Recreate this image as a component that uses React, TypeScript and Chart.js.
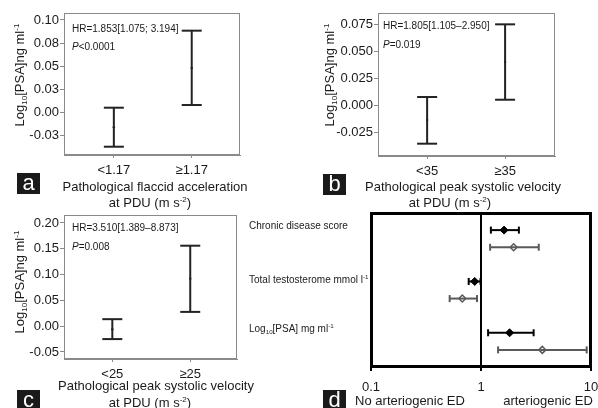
import React, { useEffect, useRef } from 'react';
import { Chart, registerables } from 'chart.js';
Chart.register(...registerables);

const FONT = '"Liberation Sans", Arial, Helvetica, sans-serif';
const TEXT = '#1a1a1a';
const BAR = '#222222';
const FRAME = '#8a8a8a';

// ---- Panel a ----
const aCategories = ['<1.17', '≥1.17'];
const aMean = [-0.0165, 0.0478];
const aLower = [-0.0377, 0.0076];
const aUpper = [0.0047, 0.0884];
const aTickValues = [-0.025, 0, 0.025, 0.05, 0.075, 0.1];
const aTickLabels = ['-0.03', '0.00', '0.03', '0.05', '0.08', '0.10'];

// ---- Panel b ----
const bCategories = ['<35', '≥35'];
const bMean = [-0.0139, 0.0398];
const bLower = [-0.0358, 0.0049];
const bUpper = [0.0074, 0.0747];
const bTickValues = [-0.025, 0, 0.025, 0.05, 0.075];
const bTickLabels = ['-0.025', '0.000', '0.025', '0.050', '0.075'];

// ---- Panel c ----
const cCategories = ['<25', '≥25'];
const cMean = [-0.006, 0.092];
const cLower = [-0.025, 0.0277];
const cUpper = [0.0136, 0.156];
const cTickValues = [-0.05, 0, 0.05, 0.1, 0.15, 0.2];
const cTickLabels = ['-0.05', '0.00', '0.05', '0.10', '0.15', '0.20'];

// ---- Panel d (hazard ratios, log scale) ----
const dFilledHR = [1.62, 0.877, 1.82];
const dFilledLow = [1.23, 0.773, 1.16];
const dFilledHigh = [2.21, 0.99, 3.01];
const dOpenHR = [1.98, 0.676, 3.61];
const dOpenLow = [1.21, 0.519, 1.43];
const dOpenHigh = [3.35, 0.92, 9.14];
const dTickValues = [0.1, 1, 10];
const dTickLabels = ['0.1', '1', '10'];
const dReference = 1;

const framePlugin = {
  id: 'frame',
  afterDraw(chart: any, _args: any, opts: any) {
    const a = chart.chartArea;
    if (!a) return;
    const ctx = chart.ctx;
    const lw = opts.width || 1;
    const o = lw % 2 ? 0.5 : 0;
    ctx.save();
    ctx.strokeStyle = opts.color || FRAME;
    ctx.lineWidth = lw;
    const L = Math.round(a.left), T = Math.round(a.top), R = Math.round(a.right), B = Math.round(a.bottom);
    ctx.strokeRect(L + o, T + o, R - L - 2 * o, B - T - 2 * o);
    ctx.restore();
  },
};

type Box = { left: number; top: number; width: number; height: number };
type Area = { left: number; top: number; right: number; bottom: number };

interface PanelProps {
  cats: string[];
  mean: number[];
  lower: number[];
  upper: number[];
  tickValues: number[];
  tickLabels: string[];
  yMin: number;
  yMax: number;
  xMin: number;
  xMax: number;
  box: Box;
  area: Area;
}

function ErrorPanel(p: PanelProps) {
  const ref = useRef<HTMLCanvasElement>(null);
  useEffect(() => {
    const datasets: any[] = [];
    p.cats.forEach((_c, i) => {
      datasets.push({
        data: [
          { x: i, y: p.lower[i] },
          { x: i, y: p.upper[i] },
        ],
        showLine: true,
        borderColor: BAR,
        borderWidth: 2,
        pointStyle: 'line',
        pointRadius: 10,
        pointHoverRadius: 10,
        pointBorderColor: BAR,
        pointBorderWidth: 2,
      });
    });
    datasets.push({
      data: p.mean.map((m, i) => ({ x: i, y: m })),
      pointRadius: 1.2,
      pointBackgroundColor: BAR,
      pointBorderColor: BAR,
      pointBorderWidth: 0,
    });
    const chart = new Chart(ref.current as HTMLCanvasElement, {
      type: 'scatter',
      data: { datasets },
      options: {
        responsive: false,
        animation: false,
        events: [],
        layout: {
          autoPadding: false,
          padding: { left: 0, top: p.area.top, right: p.box.width - p.area.right, bottom: 0 },
        },
        plugins: {
          legend: { display: false },
          tooltip: { enabled: false },
          frame: { color: FRAME, width: 1 },
        } as any,
        scales: {
          x: {
            type: 'linear',
            min: p.xMin,
            max: p.xMax,
            afterBuildTicks: (s: any) => {
              s.ticks = p.cats.map((_c, i) => ({ value: i }));
            },
            afterFit: (s: any) => {
              s.height = p.box.height - p.area.bottom;
              s.paddingLeft = 0;
              s.paddingRight = 0;
            },
            ticks: {
              autoSkip: false,
              maxRotation: 0,
              padding: 5,
              color: TEXT,
              font: { family: FONT, size: 13 },
              callback: (_v: any, i: number) => p.cats[i],
            },
            grid: { drawOnChartArea: false, drawTicks: true, tickLength: 3, color: FRAME, lineWidth: 1 },
            border: { display: true, color: FRAME, width: 1 },
          },
          y: {
            type: 'linear',
            min: p.yMin,
            max: p.yMax,
            afterBuildTicks: (s: any) => {
              s.ticks = p.tickValues.map((v) => ({ value: v }));
            },
            afterFit: (s: any) => {
              s.width = p.area.left;
              s.paddingTop = 0;
              s.paddingBottom = 0;
            },
            ticks: {
              autoSkip: false,
              padding: 1,
              color: TEXT,
              font: { family: FONT, size: 13 },
              callback: (_v: any, i: number) => p.tickLabels[i],
            },
            grid: { drawOnChartArea: false, drawTicks: true, tickLength: 4, color: FRAME, lineWidth: 1 },
            border: { display: true, color: FRAME, width: 1 },
          },
        },
      } as any,
      plugins: [framePlugin],
    });
    return () => chart.destroy();
  }, []);
  return (
    <canvas
      ref={ref}
      width={p.box.width}
      height={p.box.height}
      style={{ position: 'absolute', left: p.box.left, top: p.box.top }}
    />
  );
}

function ForestPanel() {
  const ref = useRef<HTMLCanvasElement>(null);
  const box: Box = { left: 360, top: 205, width: 238, height: 203 };
  const area: Area = { left: 11, top: 8, right: 231, bottom: 162 };
  useEffect(() => {
    const datasets: any[] = [];
    datasets.push({
      data: [
        { x: dReference, y: 0 },
        { x: dReference, y: 9 },
      ],
      showLine: true,
      borderColor: '#000',
      borderWidth: 2,
      pointRadius: 0,
    });
    const addRow = (lo: number, hi: number, hr: number, row: number, filled: boolean) => {
      const col = filled ? '#000000' : '#5a5a5a';
      datasets.push({
        data: [
          { x: lo, y: row },
          { x: hi, y: row },
        ],
        showLine: true,
        borderColor: col,
        borderWidth: 2,
        pointStyle: 'line',
        pointRotation: 90,
        pointRadius: 3.5,
        pointBorderColor: col,
        pointBorderWidth: 2,
      });
      datasets.push({
        data: [{ x: hr, y: row }],
        pointStyle: 'rectRot',
        pointRadius: filled ? 4 : 3.5,
        pointBackgroundColor: filled ? '#000' : '#fff',
        pointBorderColor: filled ? '#000' : '#5a5a5a',
        pointBorderWidth: filled ? 1 : 1.5,
      });
    };
    dFilledHR.forEach((hr, i) => addRow(dFilledLow[i], dFilledHigh[i], hr, 3 * i + 1, true));
    dOpenHR.forEach((hr, i) => addRow(dOpenLow[i], dOpenHigh[i], hr, 3 * i + 2, false));
    const chart = new Chart(ref.current as HTMLCanvasElement, {
      type: 'scatter',
      data: { datasets },
      options: {
        responsive: false,
        animation: false,
        events: [],
        layout: {
          autoPadding: false,
          padding: { left: area.left, top: area.top, right: box.width - area.right, bottom: 0 },
        },
        plugins: {
          legend: { display: false },
          tooltip: { enabled: false },
          frame: { color: '#000', width: 3 },
        } as any,
        scales: {
          x: {
            type: 'logarithmic',
            min: 0.1,
            max: 10,
            afterBuildTicks: (s: any) => {
              s.ticks = dTickValues.map((v) => ({ value: v }));
            },
            afterFit: (s: any) => {
              s.height = box.height - area.bottom;
              s.paddingLeft = 0;
              s.paddingRight = 0;
            },
            ticks: {
              autoSkip: false,
              maxRotation: 0,
              padding: 9,
              color: TEXT,
              font: { family: FONT, size: 13 },
              callback: (_v: any, i: number) => dTickLabels[i],
            },
            grid: { drawOnChartArea: false, drawTicks: true, tickLength: 4, color: '#000', lineWidth: 2 },
            border: { display: false },
          },
          y: {
            type: 'linear',
            min: 0,
            max: 9,
            reverse: true,
            display: false,
          },
        },
      } as any,
      plugins: [framePlugin],
    });
    return () => chart.destroy();
  }, []);
  return (
    <canvas
      ref={ref}
      width={box.width}
      height={box.height}
      style={{ position: 'absolute', left: box.left, top: box.top }}
    />
  );
}

function T({ x, y, size = 13, align = 'center', rot = false, children }: any) {
  const tx = align === 'center' ? '-50%' : align === 'right' ? '-100%' : '0';
  return (
    <div
      style={{
        position: 'absolute',
        left: x,
        top: y,
        fontSize: size,
        lineHeight: 1,
        whiteSpace: 'nowrap',
        color: TEXT,
        transform: `translate(${tx},-50%)${rot ? ' rotate(-90deg)' : ''}`,
      }}
    >
      {children}
    </div>
  );
}

const Sub = ({ children }: any) => (
  <span style={{ fontSize: '0.62em', position: 'relative', top: '0.35em' }}>{children}</span>
);
const Sup = ({ children }: any) => (
  <span style={{ fontSize: '0.62em', position: 'relative', top: '-0.6em' }}>{children}</span>
);

function Letter({ x, y, ch }: any) {
  return (
    <div
      style={{
        position: 'absolute',
        left: x,
        top: y,
        width: 23,
        height: 21,
        background: '#1a1a1a',
        color: '#fff',
        fontSize: 22,
        lineHeight: '20px',
        textAlign: 'center',
      }}
    >
      {ch}
    </div>
  );
}

const YTitle = () => (
  <>
    Log<Sub>10</Sub>[PSA]ng ml<Sup>-1</Sup>
  </>
);
const AtPDU = () => (
  <>
    at PDU (m s<Sup>-2</Sup>)
  </>
);

export default function App() {
  return (
    <div
      style={{
        position: 'absolute',
        left: 0,
        top: 0,
        width: 598,
        height: 408,
        overflow: 'hidden',
        background: '#fff',
        fontFamily: FONT,
      }}
    >
      <ErrorPanel
        cats={aCategories}
        mean={aMean}
        lower={aLower}
        upper={aUpper}
        tickValues={aTickValues}
        tickLabels={aTickLabels}
        yMin={-0.0467}
        yMax={0.1076}
        xMin={-0.64}
        xMax={1.62}
        box={{ left: 0, top: 0, width: 298, height: 190 }}
        area={{ left: 64, top: 13, right: 240, bottom: 155 }}
      />
      <ErrorPanel
        cats={bCategories}
        mean={bMean}
        lower={bLower}
        upper={bUpper}
        tickValues={bTickValues}
        tickLabels={bTickLabels}
        yMin={-0.0472}
        yMax={0.0852}
        xMin={-0.63}
        xMax={1.64}
        box={{ left: 298, top: 0, width: 300, height: 190 }}
        area={{ left: 80, top: 13, right: 257, bottom: 156 }}
      />
      <ErrorPanel
        cats={cCategories}
        mean={cMean}
        lower={cLower}
        upper={cUpper}
        tickValues={cTickValues}
        tickLabels={cTickLabels}
        yMin={-0.0636}
        yMax={0.2155}
        xMin={-0.62}
        xMax={1.6}
        box={{ left: 0, top: 200, width: 298, height: 190 }}
        area={{ left: 64, top: 15, right: 237, bottom: 159 }}
      />
      <ForestPanel />

      {/* Panel a texts */}
      <T x={20} y={75} rot>
        <YTitle />
      </T>
      <T x={72} y={29} size={10} align="left">HR=1.853[1.075; 3.194]</T>
      <T x={72} y={47} size={10} align="left">
        <i>P</i>&lt;0.0001
      </T>
      <T x={155} y={186}>Pathological flaccid acceleration</T>
      <T x={150} y={203}>
        <AtPDU />
      </T>
      <Letter x={17} y={173} ch="a" />

      {/* Panel b texts */}
      <T x={330} y={75} rot>
        <YTitle />
      </T>
      <T x={383} y={26} size={10} align="left">HR=1.805[1.105–2.950]</T>
      <T x={383} y={45} size={10} align="left">
        <i>P</i>=0.019
      </T>
      <T x={463} y={186}>Pathological peak systolic velocity</T>
      <T x={450} y={203}>
        <AtPDU />
      </T>
      <Letter x={323} y={174} ch="b" />

      {/* Panel c texts */}
      <T x={20} y={282} rot>
        <YTitle />
      </T>
      <T x={72} y={228} size={10} align="left">HR=3.510[1.389–8.873]</T>
      <T x={72} y={247} size={10} align="left">
        <i>P</i>=0.008
      </T>
      <T x={156} y={385}>Pathological peak systolic velocity</T>
      <T x={150} y={403}>
        <AtPDU />
      </T>
      <Letter x={17} y={390} ch="c" />

      {/* Panel d texts */}
      <T x={249} y={226} size={10} align="left">Chronic disease score</T>
      <T x={249} y={280} size={10} align="left">
        Total testosterome mmol l<Sup>-1</Sup>
      </T>
      <T x={249} y={329} size={10} align="left">
        Log<Sub>10</Sub>[PSA] mg ml<Sup>-1</Sup>
      </T>
      <T x={410} y={400}>No arteriogenic ED</T>
      <T x={548} y={400}>arteriogenic ED</T>
      <Letter x={323} y={390} ch="d" />
    </div>
  );
}
